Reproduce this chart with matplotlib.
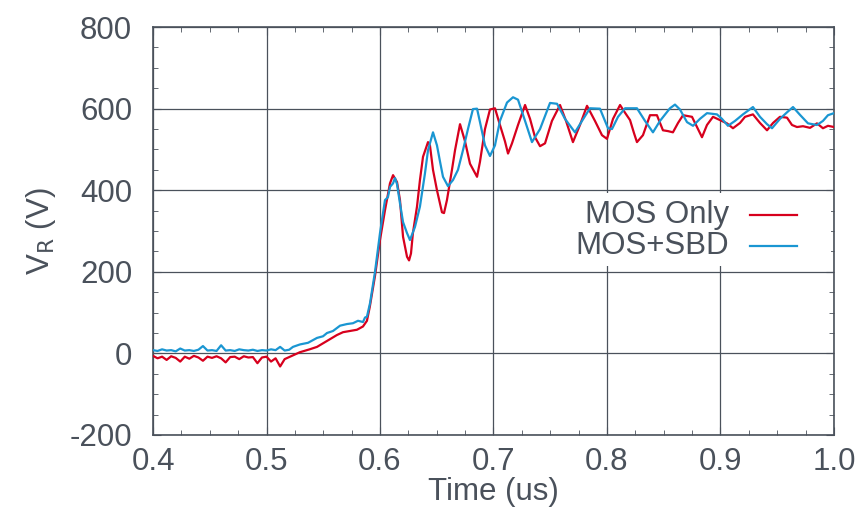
import matplotlib
matplotlib.use("Agg")
import matplotlib.pyplot as plt
from matplotlib.patches import Rectangle
from matplotlib.ticker import MultipleLocator

plt.rcParams['font.family'] = ['Liberation Sans', 'DejaVu Sans']
plt.rcParams['axes.unicode_minus'] = False

# MOS Only (red)
t_mos = [0.400, 0.404, 0.408, 0.412, 0.416, 0.420, 0.424, 0.428, 0.432, 0.436,
         0.440, 0.444, 0.448, 0.452, 0.456, 0.460, 0.464, 0.468, 0.472, 0.476,
         0.480, 0.484, 0.488, 0.492, 0.496, 0.500, 0.504, 0.508, 0.512, 0.516,
         0.520, 0.524, 0.5295, 0.538, 0.5445, 0.550, 0.556, 0.562, 0.5674, 0.5736,
         0.5797, 0.585, 0.5885, 0.591, 0.5956, 0.600, 0.6044, 0.6088, 0.6115, 0.615,
         0.6176, 0.6203, 0.6238, 0.6256, 0.6273, 0.629, 0.6326, 0.6352, 0.6379, 0.6423,
         0.644, 0.6467, 0.6502, 0.6546, 0.6564, 0.659, 0.6634, 0.6661, 0.6705, 0.6749,
         0.6793, 0.6855, 0.6881, 0.6925, 0.6969, 0.7013, 0.7057, 0.7101, 0.7128, 0.7163,
         0.7216, 0.7278, 0.7322, 0.7366, 0.741, 0.7454, 0.7515, 0.7586, 0.7639, 0.770,
         0.7762, 0.7824, 0.7894, 0.7956, 0.800, 0.8053, 0.8115, 0.8159, 0.8203, 0.8238,
         0.8264, 0.8317, 0.8379, 0.844, 0.8493, 0.8537, 0.8581, 0.8626, 0.867, 0.8749,
         0.8819, 0.8837, 0.8881, 0.8934, 0.8996, 0.9057, 0.911, 0.9172, 0.9216, 0.9286,
         0.9348, 0.941, 0.9463, 0.9524, 0.9586, 0.963, 0.9674, 0.9727, 0.9789, 0.985,
         0.9903, 0.9947, 1.000]
v_mos = [-6, -12, -8, -16, -7, -11, -20, -8, -13, -6,
         -10, -18, -8, -11, -7, -12, -22, -9, -8, -14,
         -7, -10, -9, -24, -10, -8, -20, -12, -32, -14,
         -9, -4, 3, 10, 16, 25, 35, 45, 52, 55,
         58, 66, 80, 114, 190, 278, 351, 417, 437, 420,
         376, 286, 237, 228, 245, 295, 360, 425, 482, 518,
         510, 450, 400, 346, 344, 376, 450, 498, 562, 520,
         465, 433, 470, 550, 598, 601, 560, 520, 490, 515,
         560, 609, 575, 530, 508, 515, 570, 609, 570, 518,
         560, 607, 570, 535, 526, 575, 609, 590, 572, 540,
         518, 535, 584, 584, 547, 545, 542, 565, 584, 580,
         540, 530, 560, 580, 572, 564, 552, 565, 580, 586,
         565, 547, 565, 580, 578, 560, 555, 557, 553, 564,
         552, 558, 555]

# MOS+SBD (blue)
t_sbd = [0.400, 0.404, 0.408, 0.412, 0.416, 0.420, 0.424, 0.428, 0.432, 0.436,
         0.440, 0.444, 0.448, 0.452, 0.456, 0.460, 0.464, 0.468, 0.472, 0.476,
         0.480, 0.484, 0.488, 0.492, 0.496, 0.500, 0.504, 0.508, 0.512, 0.516,
         0.520, 0.5233, 0.5295, 0.5366, 0.5445, 0.5498, 0.5533, 0.5586, 0.5648, 0.5709,
         0.5762, 0.5806, 0.585, 0.5868, 0.5885, 0.5912, 0.5956, 0.600, 0.6044, 0.607,
         0.6088, 0.6115, 0.6132, 0.615, 0.6176, 0.6203, 0.6238, 0.6264, 0.6308, 0.6352,
         0.6396, 0.6423, 0.6467, 0.6502, 0.6529, 0.6555, 0.6599, 0.6643, 0.6687, 0.6731,
         0.6775, 0.6819, 0.6855, 0.6881, 0.6925, 0.6969, 0.7013, 0.7057, 0.7119, 0.7172,
         0.7216, 0.7278, 0.7339, 0.741, 0.7498, 0.756, 0.763, 0.7718, 0.778, 0.785,
         0.7938, 0.8009, 0.8044, 0.8097, 0.8159, 0.8264, 0.8335, 0.8405, 0.8467, 0.8555,
         0.8599, 0.8643, 0.8705, 0.8758, 0.8819, 0.8881, 0.8969, 0.9013, 0.9066, 0.9128,
         0.9198, 0.9286, 0.9348, 0.941, 0.9454, 0.9524, 0.9586, 0.9639, 0.970, 0.9771,
         0.985, 0.9903, 0.9947, 1.000]
v_sbd = [8, 6, 10, 7, 8, 5, 12, 7, 8, 6,
         9, 18, 7, 8, 6, 20, 7, 8, 6, 10,
         8, 7, 9, 6, 8, 7, 10, 8, 16, 7,
         9, 16, 22, 26, 38, 42, 50, 55, 68, 72,
         74, 80, 77, 88, 90, 123, 200, 295, 376, 383,
         408, 417, 430, 415, 368, 322, 295, 278, 310, 360,
         441, 498, 542, 510, 470, 433, 410, 425, 450, 498,
         550, 599, 600, 567, 510, 484, 510, 570, 615, 628,
         622, 570, 518, 550, 614, 612, 575, 542, 570, 601,
         600, 552, 550, 580, 601, 601, 570, 542, 570, 601,
         610, 598, 567, 558, 575, 589, 586, 575, 558, 570,
         586, 604, 580, 562, 552, 575, 591, 604, 585, 564,
         560, 570, 584, 589]

labels = ['MOS Only', 'MOS+SBD']
colors = ['#d7001d', '#1a96d2']
ink = '#4a515b'
fs = 22.5

fig = plt.figure(figsize=(8.62, 5.16), dpi=100)
ax = fig.add_axes([0.1775, 0.157, 0.79, 0.7905])

ax.plot(t_mos, v_mos, color=colors[0], lw=1.6, zorder=3)
ax.plot(t_sbd, v_sbd, color=colors[1], lw=1.6, zorder=3)

ax.set_xlim(0.4, 1.0)
ax.set_ylim(-200, 800)
ax.xaxis.set_major_locator(MultipleLocator(0.1))
ax.xaxis.set_minor_locator(MultipleLocator(0.025))
ax.yaxis.set_major_locator(MultipleLocator(200))
ax.yaxis.set_minor_locator(MultipleLocator(50))
ax.set_xticklabels([f'{x:.1f}' for x in ax.get_xticks()])

ax.grid(True, which='major', color=ink, lw=0.9)
ax.set_axisbelow(True)
for s in ax.spines.values():
    s.set_color(ink)
    s.set_linewidth(1.2)
ax.tick_params(which='both', direction='in', top=True, right=True, colors=ink,
               labelsize=fs)
ax.tick_params(which='major', length=6)
ax.tick_params(which='minor', length=3.5)
ax.tick_params(axis='y', pad=15)
ax.tick_params(axis='x', pad=9)

ax.set_xlabel('Time (us)', fontsize=fs, color=ink, labelpad=0)
ax.set_ylabel(r'V$_\mathrm{R}$ (V)', fontsize=fs, color=ink, labelpad=8)

# legend drawn gnuplot-style: right-aligned text, sample line after it
ax.add_patch(Rectangle((0.605, 0.414), 0.39, 0.18, transform=ax.transAxes,
                       facecolor='white', edgecolor='none', zorder=2))
for i, (lab, c) in enumerate(zip(labels, colors)):
    yy = 0.539 - i * 0.076
    ax.text(0.846, yy, lab, transform=ax.transAxes, ha='right', va='center',
            fontsize=fs, color=ink, zorder=4)
    ax.plot([0.877, 0.946], [yy, yy], transform=ax.transAxes, color=c,
            lw=1.6, zorder=4)

fig.savefig('out.png', dpi=100)
